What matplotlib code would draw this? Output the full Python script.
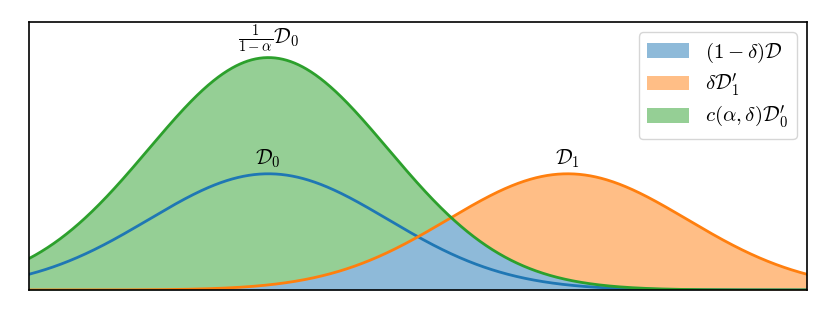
import numpy as np
import matplotlib
matplotlib.use("Agg")
import matplotlib.pyplot as plt

plt.rcParams['mathtext.fontset'] = 'cm'

# distribution parameters
means = [0.0, 5.0]      # D_0, D_1
sigma = 2.0
alpha = 0.5
x_range = [-4.0, 9.0]
y_top = 0.46

legend_labels = [r'$(1-\delta)\mathcal{D}$', r"$\delta\mathcal{D}_1'$", r"$c(\alpha,\delta)\mathcal{D}_0'$"]
curve_labels = [r'$\mathcal{D}_0$', r'$\mathcal{D}_1$', r'$\frac{1}{1-\alpha}\mathcal{D}_0$']


def gauss(x, mu, s):
    return np.exp(-0.5 * ((x - mu) / s) ** 2) / (s * np.sqrt(2 * np.pi))


x = np.linspace(x_range[0], x_range[1], 1000)
d0 = gauss(x, means[0], sigma)
d1 = gauss(x, means[1], sigma)
big0 = d0 / (1 - alpha)
low = np.minimum(big0, d1)

fig = plt.figure(figsize=(8.3, 3.2), dpi=100)
ax = fig.add_axes([29 / 830, 30 / 320, 778 / 830, 268 / 320])

# filled pieces: common part, orange excess, green excess
ax.fill_between(x, 0, low, color='tab:blue', alpha=0.5, lw=0, label=legend_labels[0])
ax.fill_between(x, low, d1, where=d1 >= big0, color='tab:orange', alpha=0.5, lw=0,
                interpolate=True, label=legend_labels[1])
ax.fill_between(x, low, big0, where=big0 >= d1, color='tab:green', alpha=0.5, lw=0,
                interpolate=True, label=legend_labels[2])

ax.plot(x, d0, color='tab:blue', lw=2)
ax.plot(x, d1, color='tab:orange', lw=2)
ax.plot(x, big0, color='tab:green', lw=2)

ax.annotate(curve_labels[0], (means[0], d0.max()), xytext=(0, 3), textcoords='offset points',
            ha='center', va='bottom', fontsize=15)
ax.annotate(curve_labels[1], (means[1], d1.max()), xytext=(0, 3), textcoords='offset points',
            ha='center', va='bottom', fontsize=15)
ax.annotate(curve_labels[2], (means[0], big0.max()), xytext=(0, 2), textcoords='offset points',
            ha='center', va='bottom', fontsize=15)

ax.set_xlim(x_range)
ax.set_ylim(0, y_top)
ax.set_xticks([])
ax.set_yticks([])
for sp in ax.spines.values():
    sp.set_linewidth(1.2)

ax.legend(loc='upper right', fontsize=15, labelspacing=0.3)

fig.savefig('out.png', dpi=100)
